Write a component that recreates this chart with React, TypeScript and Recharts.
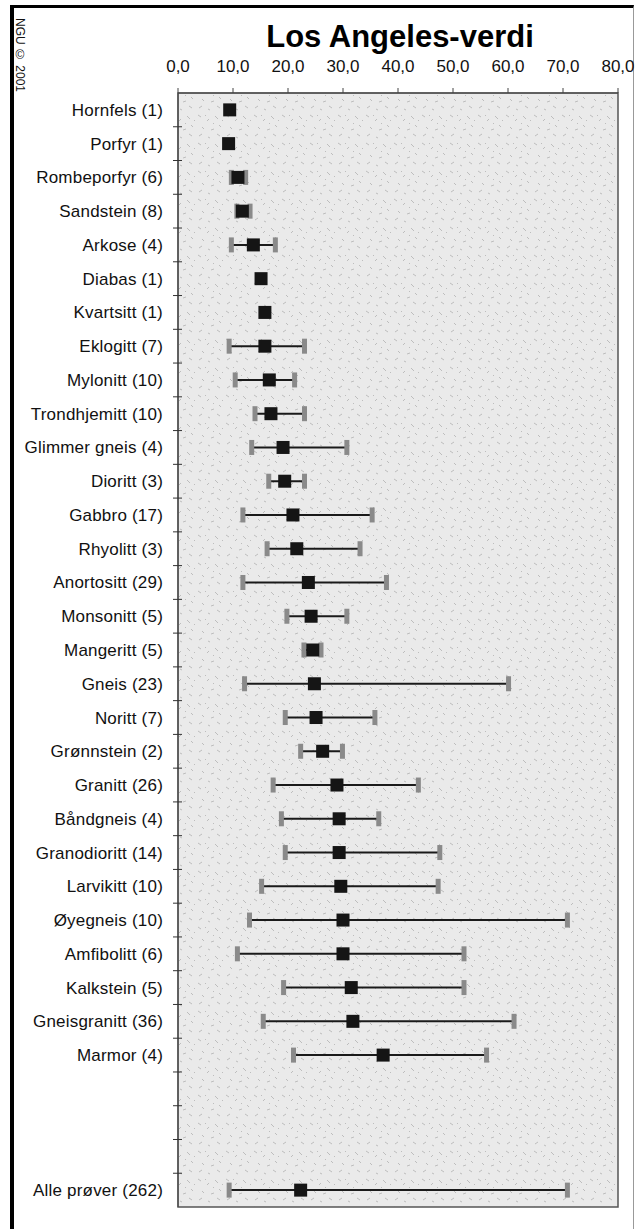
import { ScatterChart, Scatter, XAxis, YAxis, ErrorBar, ReferenceArea } from "recharts";

const rocks = [
  "Hornfels (1)", "Porfyr (1)", "Rombeporfyr (6)", "Sandstein (8)", "Arkose (4)",
  "Diabas (1)", "Kvartsitt (1)", "Eklogitt (7)", "Mylonitt (10)", "Trondhjemitt (10)",
  "Glimmer gneis (4)", "Dioritt (3)", "Gabbro (17)", "Rhyolitt (3)", "Anortositt (29)",
  "Monsonitt (5)", "Mangeritt (5)", "Gneis (23)", "Noritt (7)", "Grønnstein (2)",
  "Granitt (26)", "Båndgneis (4)", "Granodioritt (14)", "Larvikitt (10)", "Øyegneis (10)",
  "Amfibolitt (6)", "Kalkstein (5)", "Gneisgranitt (36)", "Marmor (4)",
  "", "", "", "Alle prøver (262)",
];

const meanValues = [
  9.4, 9.2, 10.9, 11.7, 13.7, 15.1, 15.8, 15.8, 16.6, 16.9,
  19.1, 19.4, 20.9, 21.6, 23.7, 24.2, 24.5, 24.8, 25.1, 26.3,
  28.9, 29.3, 29.3, 29.6, 30.0, 30.0, 31.5, 31.8, 37.3,
  null, null, null, 22.3,
];

const minValues = [
  null, null, 9.7, 10.7, 9.7, null, null, 9.3, 10.4, 14.0,
  13.4, 16.5, 11.8, 16.2, 11.8, 19.8, 22.9, 12.1, 19.5, 22.3,
  17.3, 18.8, 19.5, 15.2, 13.0, 10.8, 19.2, 15.5, 21.0,
  null, null, null, 9.3,
];

const maxValues = [
  null, null, 12.3, 13.1, 17.7, null, null, 23.0, 21.2, 23.0,
  30.7, 23.0, 35.3, 33.1, 37.9, 30.7, 26.0, 60.1, 35.8, 29.9,
  43.7, 36.5, 47.6, 47.3, 70.8, 52.0, 52.0, 61.1, 56.1,
  null, null, null, 70.8,
];

const xTicks = [0, 10, 20, 30, 40, 50, 60, 70, 80];

const font = "'Liberation Sans', Arial, sans-serif";

const meanData = meanValues
  .map((m, i) => ({
    x: m,
    y: i,
    err: m != null && minValues[i] != null ? [m - (minValues[i] as number), (maxValues[i] as number) - m] : [0, 0],
  }))
  .filter(d => d.x != null);
const minData = minValues.map((v, i) => ({ x: v, y: i })).filter(d => d.x != null);
const maxData = maxValues.map((v, i) => ({ x: v, y: i })).filter(d => d.x != null);

const rowTicks: number[] = [];
for (let i = 0; i < rocks.length; i++) {
  rowTicks.push(i);
  if (i < rocks.length - 1) rowTicks.push(i + 0.5);
}

const RowTick = (props: any) => {
  const { x, y, payload } = props;
  const v = payload.value;
  if (Number.isInteger(v)) {
    return (
      <text x={x - 15} y={y} dy={6} textAnchor="end" fontSize={17} letterSpacing={0.2} fill="#111" fontFamily={font}>
        {rocks[v]}
      </text>
    );
  }
  return <line x1={x - 5} x2={x + 4} y1={y} y2={y} stroke="#333" strokeWidth={1} />;
};

const Cap = (props: any) => (
  <rect x={props.cx - 2.5} y={props.cy - 7.5} width={5} height={15} fill="#8a8a8a" />
);

const Marker = (props: any) => (
  <rect x={props.cx - 6.5} y={props.cy - 6.5} width={13} height={13} fill="#151515" />
);

const Nothing = () => null;

export default function App() {
  return (
    <div style={{ position: "absolute", left: 0, top: 0, width: 636, height: 1229, background: "#fff", overflow: "hidden" }}>
      <div
        style={{
          position: "absolute", left: 10, top: 5, width: 619, height: 1240,
          borderTop: "3px solid #000", borderLeft: "4px solid #000", borderRight: "1px solid #999",
        }}
      />
      <div
        style={{
          position: "absolute", left: 13, top: 18, fontFamily: font, fontSize: 12, color: "#111",
          writingMode: "vertical-rl", whiteSpace: "nowrap",
        }}
      >
        NGU © 2001
      </div>
      <div
        style={{
          position: "absolute", left: 0, width: 800, top: 19, textAlign: "center",
          fontFamily: font, fontWeight: "bold", fontSize: 31, color: "#000", lineHeight: "36px",
        }}
      >
        Los Angeles-verdi
      </div>
      <div style={{ position: "absolute", left: 0, top: 0 }}>
        <ScatterChart width={636} height={1229} margin={{ top: 63, right: 18, bottom: 22, left: 8 }}>
          <defs>
            <pattern id="speckle" width="28" height="28" patternUnits="userSpaceOnUse">
              <rect width="28" height="28" fill="#eaeaea" />
              <path d="M2 3 l3 2 M11 9 l2 -2 M19 4 l3 3 M6 15 l2 2 M15 18 l3 -1 M23 13 l2 2 M3 24 l3 -2 M12 25 l2 1 M21 22 l3 2 M9 3 l1 1 M26 8 l1 1 M17 11 l1 1"
                stroke="#bdbdbd" strokeWidth="1" />
            </pattern>
          </defs>
          <XAxis
            type="number"
            dataKey="x"
            orientation="top"
            domain={[0, 80]}
            ticks={xTicks}
            interval={0}
            height={30}
            tickSize={5}
            tickMargin={16}
            tickFormatter={(v: number) => v.toFixed(1).replace(".", ",")}
            tick={{ fill: "#111", fontSize: 17, fontFamily: font }}
            axisLine={{ stroke: "#444" }}
            tickLine={{ stroke: "#444" }}
          />
          <YAxis
            type="number"
            dataKey="y"
            reversed
            domain={[-0.5, rocks.length - 0.5]}
            ticks={rowTicks}
            interval={0}
            width={170}
            tickSize={0}
            tickMargin={0}
            tick={<RowTick />}
            tickLine={false}
            axisLine={{ stroke: "#444" }}
          />
          <ReferenceArea
            x1={0}
            x2={80}
            y1={-0.5}
            y2={rocks.length - 0.5}
            fill="url(#speckle)"
            fillOpacity={1}
            stroke="#555"
            strokeWidth={1.5}
          />
          <Scatter data={meanData} shape={<Nothing />} isAnimationActive={false}>
            <ErrorBar dataKey="err" direction="x" width={0} stroke="#1a1a1a" strokeWidth={2} isAnimationActive={false} />
          </Scatter>
          <Scatter data={minData} shape={<Cap />} isAnimationActive={false} />
          <Scatter data={maxData} shape={<Cap />} isAnimationActive={false} />
          <Scatter data={meanData} shape={<Marker />} isAnimationActive={false} />
        </ScatterChart>
      </div>
    </div>
  );
}
